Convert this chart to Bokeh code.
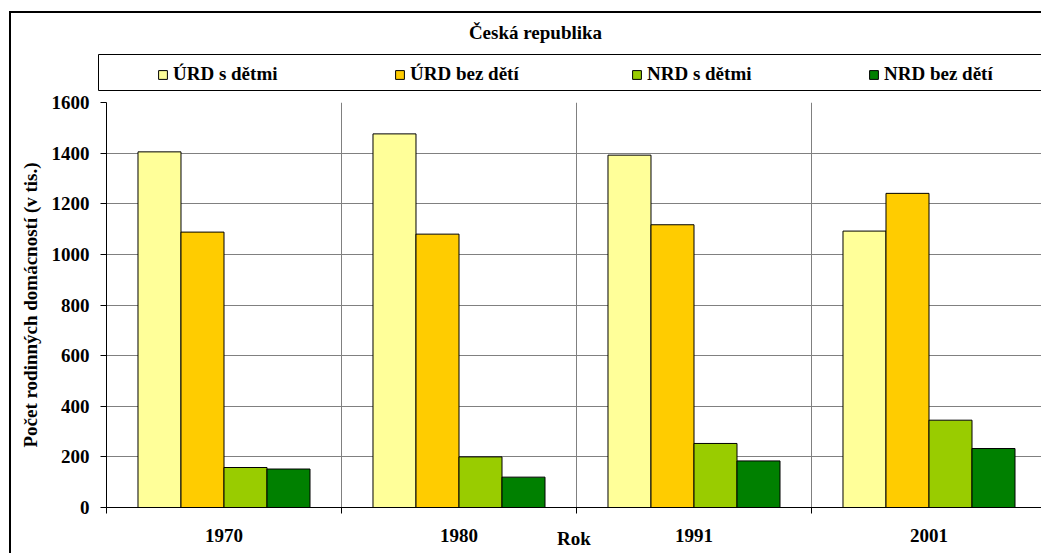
from bokeh.plotting import figure
from bokeh.layouts import column, row
from bokeh.models import Range1d, FixedTicker, Legend, LegendItem, Label
from bokeh.embed import file_html
from bokeh.resources import INLINE

years = ["1970", "1980", "1991", "2001"]
series_labels = ["ÚRD s dětmi", "ÚRD bez dětí", "NRD s dětmi", "NRD bez dětí"]
urd_s_detmi = [1405, 1476, 1392, 1092]
urd_bez_deti = [1088, 1080, 1117, 1241]
nrd_s_detmi = [158, 200, 253, 345]
nrd_bez_deti = [152, 120, 184, 233]
series_values = [urd_s_detmi, urd_bez_deti, nrd_s_detmi, nrd_bez_deti]
series_colors = ["#FFFF99", "#FFCC00", "#99CC00", "#008000"]
y_tick_values = [0, 200, 400, 600, 800, 1000, 1200, 1400, 1600]
title_text = "Česká republika"
y_axis_title = "Počet rodinných domácností (v tis.)"
x_axis_title = "Rok"

FONT = "Liberation Serif"
FS = "19px"

W = 1030
TOP_H = 78
H = 462
LEFT, TOP, BOTTOM = 95, 11, 46
CAT_PX = 235
n_cat = len(years)
x_end = (W - LEFT) / CAT_PX
bar_w = 0.183

# ---------- header figure: title + legend ----------
ph = figure(width=W, height=TOP_H, x_range=Range1d(0, W), y_range=Range1d(TOP_H, 0),
            output_backend="svg", toolbar_location=None, title=None,
            x_axis_type=None, y_axis_type=None,
            min_border_left=0, min_border_right=0, min_border_top=0, min_border_bottom=0)
ph.outline_line_color = None
ph.grid.visible = False
ph.add_layout(Label(x=524, y=19, text=title_text, text_align="center",
                    text_baseline="alphabetic", text_font=FONT, text_font_size=FS,
                    text_font_style="bold", text_color="black"))
# legend frame
ph.quad(left=[87], right=[W + 20], top=[41], bottom=[77], fill_color=None,
        line_color="black", line_width=1)
# legend proxies: zero-height bars at the series values, outside the header's visible range
proxies = []
for vals, col in zip(series_values, series_colors):
    proxies.append(ph.vbar(x=[i + 0.5 for i in range(n_cat)], top=vals, bottom=vals,
                           width=bar_w, fill_color=col, line_color="black", line_width=1))
legend = Legend(items=[LegendItem(label=l, renderers=[r]) for l, r in zip(series_labels, proxies)],
                orientation="horizontal", glyph_width=11, glyph_height=11,
                label_standoff=5, label_width=221, spacing=0, padding=0, margin=0,
                border_line_color=None, background_fill_alpha=0,
                label_text_font=FONT, label_text_font_size=FS,
                label_text_font_style="bold", label_text_color="black",
                location=(146, 6))
ph.add_layout(legend, "center")

# ---------- main chart ----------
p = figure(width=W, height=H, x_range=Range1d(0, x_end), y_range=Range1d(0, 1600),
           output_backend="svg", toolbar_location=None, title=None,
           min_border_left=LEFT, min_border_right=0, min_border_top=TOP,
           min_border_bottom=BOTTOM)
p.outline_line_color = None

for k, (vals, col) in enumerate(zip(series_values, series_colors)):
    xs = [i + 0.5 + (k - 1.5) * bar_w for i in range(n_cat)]
    p.vbar(x=xs, top=vals, bottom=0, width=bar_w, fill_color=col,
           line_color="black", line_width=1)

# x axis
p.xaxis.ticker = FixedTicker(ticks=[i + 0.5 for i in range(n_cat)],
                             minor_ticks=list(range(n_cat + 1)))
p.xaxis.major_label_overrides = {i + 0.5: y for i, y in enumerate(years)}
p.xaxis.major_tick_out = 0
p.xaxis.major_tick_in = 0
p.xaxis.minor_tick_out = 6
p.xaxis.minor_tick_in = 0
p.xaxis.minor_tick_line_color = "black"
p.xaxis.axis_line_color = "black"
p.xaxis.major_label_standoff = 15
p.xaxis.major_label_text_font = FONT
p.xaxis.major_label_text_font_size = FS
p.xaxis.major_label_text_font_style = "bold"
p.xaxis.major_label_text_color = "black"
p.xaxis.axis_label = x_axis_title
p.xaxis.axis_label_text_font = FONT
p.xaxis.axis_label_text_font_size = FS
p.xaxis.axis_label_text_font_style = "bold"
p.xaxis.axis_label_text_color = "black"
p.xaxis.axis_label_standoff = -17

# y axis
p.yaxis.ticker = FixedTicker(ticks=y_tick_values)
p.yaxis.major_tick_out = 6
p.yaxis.major_tick_in = 0
p.yaxis.minor_tick_line_color = None
p.yaxis.major_label_standoff = 11
p.yaxis.major_label_text_font = FONT
p.yaxis.major_label_text_font_size = FS
p.yaxis.major_label_text_font_style = "bold"
p.yaxis.major_label_text_color = "black"
p.yaxis.axis_label = y_axis_title
p.yaxis.axis_label_text_font = FONT
p.yaxis.axis_label_text_font_size = FS
p.yaxis.axis_label_text_font_style = "bold"
p.yaxis.axis_label_text_color = "black"
p.yaxis.axis_label_standoff = 8

# grids
p.xgrid.ticker = FixedTicker(ticks=list(range(n_cat + 1)))
p.xgrid.grid_line_color = "#808080"
p.ygrid.grid_line_color = "#808080"

layout = column(row(ph), p, spacing=0,
                styles={"border-left": "2px solid black", "border-top": "2px solid black",
                        "margin-left": "9px", "margin-top": "11px"})

open("out.html", "w").write(file_html(layout, INLINE))
